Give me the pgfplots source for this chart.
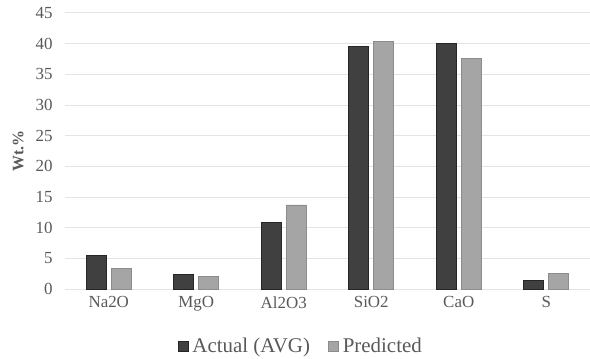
\documentclass[border=0pt]{standalone}
\usepackage{pgfplots}
\pgfplotsset{compat=1.18}
\usepackage{fontspec}
\setmainfont{Liberation Serif}
\definecolor{actual}{HTML}{404040}
\definecolor{pred}{HTML}{A5A5A5}
\definecolor{gridc}{HTML}{E4E4E4}
\definecolor{txt}{HTML}{595959}
\begin{document}
\begin{tikzpicture}[x=1bp,y=1bp]
\useasboundingbox (0,0) rectangle (590,358);
\begin{axis}[
  at={(65bp,69bp)}, anchor=south west,
  scale only axis, width=525bp, height=276bp,
  ybar=5bp, bar width=20bp,
  xmin=-0.5, xmax=5.5, ymin=0, ymax=45,
  ytick={0,5,...,45},
  xtick=data,
  xticklabels={Na2O,MgO,Al2O3,SiO2,CaO,S},
  axis x line*=bottom, axis y line*=left,
  y axis line style={draw=none},
  x axis line style={draw=gridc, line width=1pt},
  major tick length=0pt,
  ymajorgrids, grid style={draw=gridc, line width=1pt},
  /pgf/number format/assume math mode=true,
  tick label style={font=\fontsize{17}{19}\selectfont, text=txt},
  yticklabel style={xshift=-9bp},
  xticklabel style={yshift=-4bp},
  ylabel={\textbf{Wt.\%}}, ylabel style={font=\fontsize{16}{18}\selectfont, text=txt, at={(axis description cs:-0.089,0.5)}, anchor=center},
  legend style={at={(0.449,0)}, yshift=-47bp, anchor=north, draw=none, fill=none, font=\fontsize{21}{23}\selectfont, text=txt, legend columns=2, /tikz/every even column/.append style={column sep=16bp}, inner sep=0pt, /tikz/every odd column/.append style={column sep=2bp}},
  legend image code/.code={\draw[#1] (0bp,-5bp) rectangle (10bp,5bp);},
]
\addplot[fill=actual, draw=black!85, line width=0.8pt] coordinates {(0,5.5) (1,2.3) (2,10.8) (3,39.5) (4,40.0) (5,1.4)};
\addplot[fill=pred, draw=black!45, line width=0.8pt] coordinates {(0,3.3) (1,2.1) (2,13.7) (3,40.4) (4,37.6) (5,2.5)};
\legend{Actual (AVG),Predicted}
\end{axis}
\end{tikzpicture}
\end{document}
